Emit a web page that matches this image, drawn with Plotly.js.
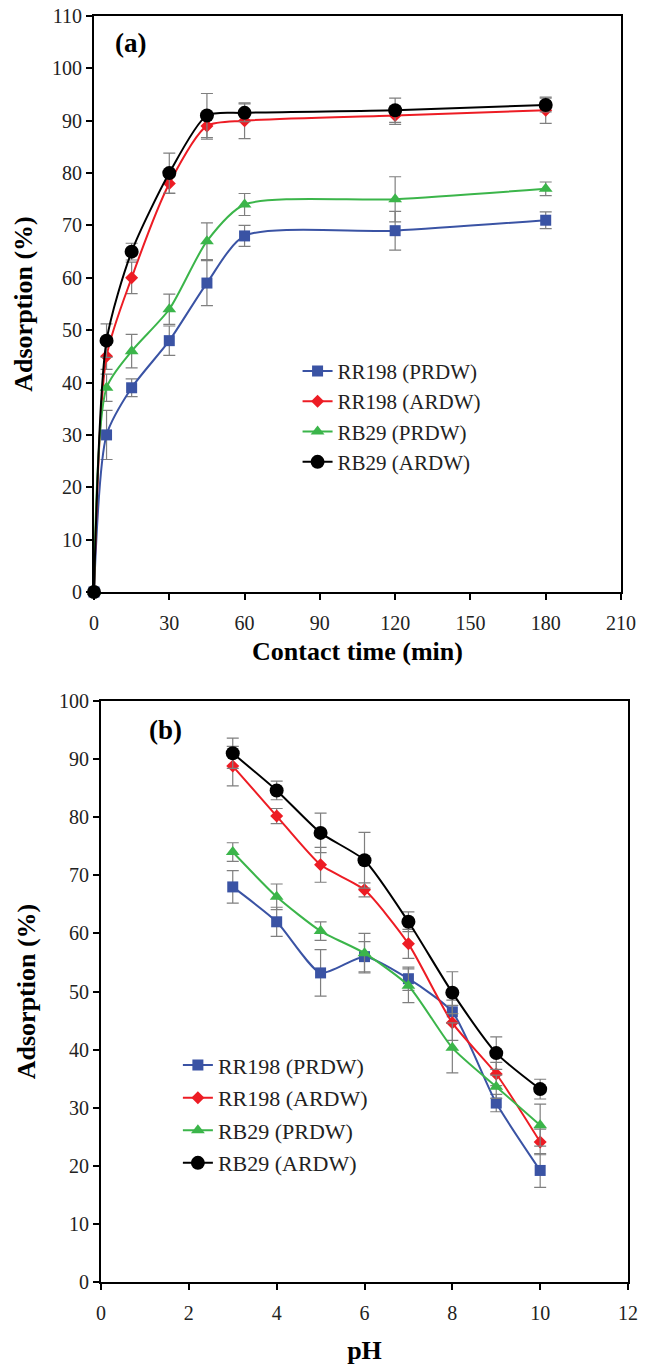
<!DOCTYPE html>
<html>
<head>
<meta charset="utf-8">
<script src="https://cdn.plot.ly/plotly-3.0.1.min.js"></script>
<style>html,body{margin:0;padding:0;background:#fff}#chart{width:654px;height:1365px}</style>
</head>
<body>
<div id="chart"></div>
<script>
// ---- Data: (a) contact time ----
const timeMin = [0, 5, 15, 30, 45, 60, 120, 180];
const rr198PrdwTime = [0, 30, 39, 48, 59, 68, 69, 71];
const rr198PrdwTimeErr = [0, 4.7, 1.7, 2.8, 4.3, 2.0, 3.7, 1.6];
const rr198ArdwTime = [0, 45, 60, 78, 89, 90, 91, 92];
const rr198ArdwTimeErr = [0, 2.5, 3.0, 1.9, 2.5, 3.4, 1.7, 2.5];
const rb29PrdwTime = [0, 39, 46, 54, 67, 74, 75, 77];
const rb29PrdwTimeErr = [0, 2.6, 3.2, 2.9, 3.5, 2.1, 4.3, 1.3];
const rb29ArdwTime = [0, 48, 65, 80, 91, 91.5, 92, 93];
const rb29ArdwTimeErr = [0, 3.2, 1.6, 3.8, 4.2, 1.7, 2.3, 1.3];

// ---- Data: (b) pH ----
const phValues = [3, 4, 5, 6, 7, 8, 9, 10];
const rr198PrdwPh = [68, 62, 53.2, 56, 52.2, 46.5, 30.8, 19.2];
const rr198PrdwPhErr = [2.8, 2.5, 4.0, 2.6, 2.0, 2.0, 1.5, 2.9];
const rr198ArdwPh = [88.8, 80.2, 71.8, 67.5, 58.2, 44.6, 35.8, 24.1];
const rr198ArdwPhErr = [3.4, 1.3, 3.0, 1.2, 2.5, 3.0, 2.0, 2.2];
const rb29PrdwPh = [74, 66.3, 60.4, 56.6, 51, 40.3, 33.6, 27];
const rb29PrdwPhErr = [1.6, 2.2, 1.6, 3.4, 2.9, 4.3, 2.0, 3.6];
const rb29ArdwPh = [91, 84.6, 77.3, 72.6, 62, 49.8, 39.4, 33.2];
const rb29ArdwPhErr = [2.6, 1.6, 3.4, 4.8, 1.7, 3.6, 2.8, 1.7];

const seriesNames = ['RR198 (PRDW)', 'RR198 (ARDW)', 'RB29 (PRDW)', 'RB29 (ARDW)'];
const seriesColors = ['#3A53A4', '#ED1C24', '#3BB54A', '#000000'];
const seriesSymbols = ['square', 'diamond', 'triangle-up', 'circle'];
const seriesSizes = [11, 10, 12, 14];

const FONT = 'Liberation Serif';
const ERRC = '#7f7f7f';

function mk(x, y, err, i, xa, ya, leg, smooth) {
  return {
    x: x, y: y, type: 'scatter', mode: 'lines+markers',
    name: seriesNames[i], xaxis: xa, yaxis: ya, legend: leg,
    legendgroup: leg + i,
    cliponaxis: false,
    line: {color: seriesColors[i], width: 2, shape: 'spline', smoothing: smooth},
    marker: {color: seriesColors[i], symbol: seriesSymbols[i], size: seriesSizes[i]},
    error_y: {type: 'data', array: err, visible: true, color: ERRC, thickness: 1.2, width: 6}
  };
}

const traces = [
  mk(timeMin, rr198PrdwTime, rr198PrdwTimeErr, 0, 'x', 'y', 'legend', 0.7),
  mk(timeMin, rr198ArdwTime, rr198ArdwTimeErr, 1, 'x', 'y', 'legend', 0.7),
  mk(timeMin, rb29PrdwTime, rb29PrdwTimeErr, 2, 'x', 'y', 'legend', 0.7),
  mk(timeMin, rb29ArdwTime, rb29ArdwTimeErr, 3, 'x', 'y', 'legend', 0.7),
  mk(phValues, rr198PrdwPh, rr198PrdwPhErr, 0, 'x2', 'y2', 'legend2', 0.6),
  mk(phValues, rr198ArdwPh, rr198ArdwPhErr, 1, 'x2', 'y2', 'legend2', 0.6),
  mk(phValues, rb29PrdwPh, rb29PrdwPhErr, 2, 'x2', 'y2', 'legend2', 0.6),
  mk(phValues, rb29ArdwPh, rb29ArdwPhErr, 3, 'x2', 'y2', 'legend2', 0.6)
];

const W = 654, H = 1365;
function px(a, b) { return [a / W, b / W]; }
function py(top, bottom) { return [1 - bottom / H, 1 - top / H]; }

const axisBase = {
  showgrid: false, zeroline: false, showline: true, linecolor: '#000', linewidth: 2,
  mirror: true, ticks: 'outside', ticklen: 6, tickwidth: 2, tickcolor: '#000',
  tickfont: {family: FONT, size: 20, color: '#222'}
};
const titleFont = {family: FONT, size: 26, color: '#000'};

const layout = {
  width: W, height: H,
  margin: {l: 0, r: 0, t: 0, b: 0},
  paper_bgcolor: '#fff', plot_bgcolor: '#fff',
  font: {family: FONT},
  showlegend: true,
  xaxis: Object.assign({}, axisBase, {
    domain: px(94, 621), range: [0, 210], dtick: 30, tick0: 0, anchor: 'y',
    ticklabelstandoff: 6,
    title: {text: '<b>Contact time (min)</b>', font: titleFont, standoff: 9}
  }),
  yaxis: Object.assign({}, axisBase, {
    domain: py(16, 592), range: [0, 110], dtick: 10, tick0: 0, anchor: 'x',
    title: {text: '<b>Adsorption (%)</b>', font: titleFont, standoff: 12}
  }),
  xaxis2: Object.assign({}, axisBase, {
    domain: px(101, 628), range: [0, 12], dtick: 2, tick0: 0, anchor: 'y2',
    ticklabelstandoff: 6,
    title: {text: '<b>pH</b>', font: titleFont, standoff: 19}
  }),
  yaxis2: Object.assign({}, axisBase, {
    domain: py(701, 1282), range: [0, 100], dtick: 10, tick0: 0, anchor: 'x2',
    title: {text: '<b>Adsorption (%)</b>', font: titleFont, standoff: 16}
  }),
  legend: {
    x: 0.455, y: 0.743, xanchor: 'left', yanchor: 'top',
    bgcolor: 'rgba(0,0,0,0)', borderwidth: 0,
    font: {family: FONT, size: 21, color: '#222'},
    traceorder: 'normal', tracegroupgap: 0
  },
  legend2: {
    x: 0.272, y: 0.235, xanchor: 'left', yanchor: 'top',
    bgcolor: 'rgba(0,0,0,0)', borderwidth: 0,
    font: {family: FONT, size: 22, color: '#222'},
    traceorder: 'grouped', tracegroupgap: 1
  },
  annotations: [
    {text: '<b>(a)</b>', xref: 'paper', yref: 'paper', x: 130 / W, y: 1 - 43 / H,
     xanchor: 'center', yanchor: 'middle',
     showarrow: false, font: {family: FONT, size: 27, color: '#000'}},
    {text: '<b>(b)</b>', xref: 'paper', yref: 'paper', x: 165 / W, y: 1 - 730 / H,
     xanchor: 'center', yanchor: 'middle',
     showarrow: false, font: {family: FONT, size: 27, color: '#000'}}
  ]
};

Plotly.newPlot('chart', traces, layout, {displayModeBar: false, staticPlot: true});
</script>
</body>
</html>
